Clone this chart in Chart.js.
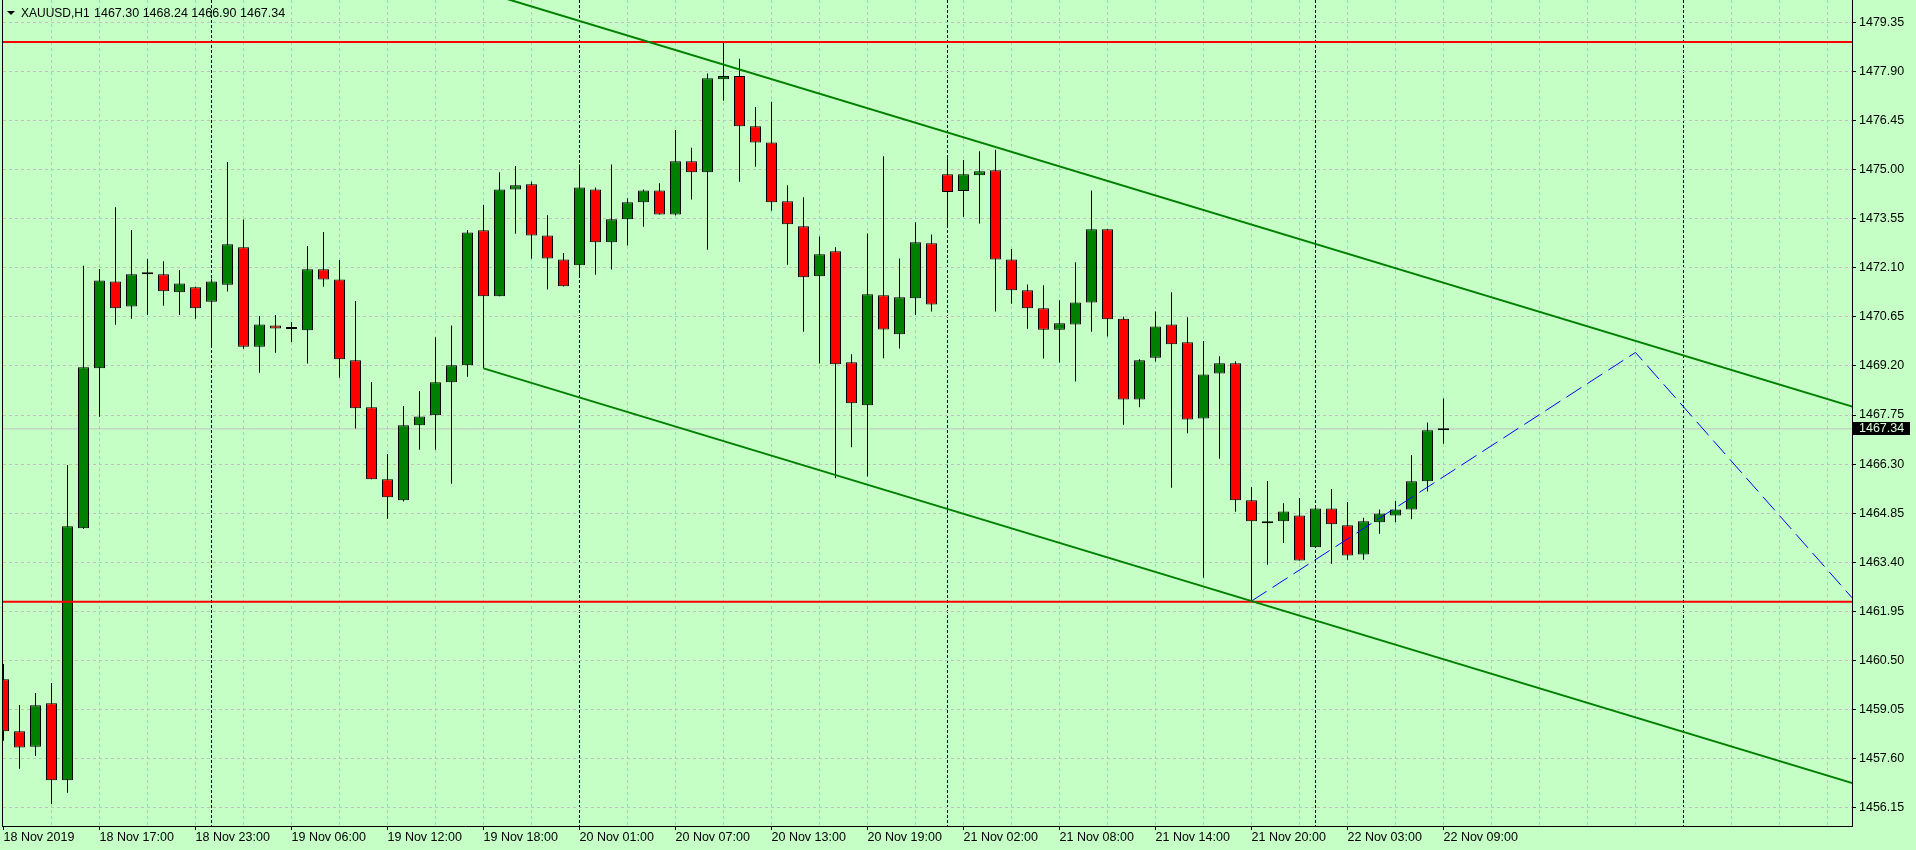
<!DOCTYPE html>
<html>
<head>
<meta charset="utf-8">
<title>XAUUSD,H1</title>
<script src="https://cdn.jsdelivr.net/npm/chart.js@4.4.1/dist/chart.umd.min.js"></script>
<style>
    html, body { margin: 0; padding: 0; background: #c6ffc6; }
    #wrap { position: relative; width: 1916px; height: 850px; }
</style>
</head>
<body>
<div id="wrap"><canvas id="chart"></canvas></div>
<script>
// XAUUSD H1 bars, 18 Nov 2019 11:00 -> 22 Nov 2019 09:00 (bar index 0..90)
const opens = [
    1459.94, 1458.40, 1457.94, 1459.23, 1456.95, 1464.40, 1469.13, 1471.70, 1470.96, 1471.91,
    1471.91, 1471.38, 1471.53, 1471.10, 1471.60, 1472.71, 1469.77, 1470.40, 1470.29, 1470.26,
    1472.06, 1471.76, 1469.37, 1467.98, 1465.85, 1465.23, 1467.45, 1467.74, 1468.72, 1469.22,
    1473.21, 1471.26, 1474.42, 1474.57, 1473.06, 1472.35, 1472.18, 1474.42, 1472.86, 1473.54,
    1474.04, 1474.39, 1473.68, 1475.25, 1474.93, 1477.68, 1477.77, 1476.29, 1475.81, 1474.07,
    1473.33, 1471.85, 1472.59, 1469.31, 1468.04, 1471.29, 1470.14, 1471.20, 1472.83, 1474.87,
    1474.37, 1474.84, 1474.99, 1472.35, 1471.44, 1470.91, 1470.27, 1470.43, 1471.08, 1473.24,
    1470.60, 1468.21, 1469.44, 1470.43, 1469.90, 1467.65, 1468.98, 1469.28, 1465.23, 1464.61,
    1464.61, 1464.78, 1463.84, 1464.99, 1464.49, 1463.63, 1464.58, 1464.78, 1464.96, 1465.79,
    1467.30
];
const highs = [
    1460.39, 1459.18, 1459.53, 1459.83, 1466.27, 1472.16, 1472.07, 1473.89, 1473.22, 1472.36,
    1472.30, 1472.04, 1471.55, 1471.79, 1475.23, 1473.53, 1470.68, 1470.71, 1470.50, 1472.75,
    1473.16, 1472.33, 1471.12, 1468.73, 1466.60, 1468.02, 1468.46, 1470.05, 1470.40, 1473.22,
    1473.96, 1474.93, 1475.11, 1474.65, 1473.66, 1472.54, 1475.16, 1474.48, 1475.16, 1474.16,
    1474.42, 1474.60, 1476.18, 1475.65, 1477.85, 1478.80, 1478.28, 1476.86, 1477.01, 1474.54,
    1474.19, 1473.03, 1472.71, 1469.55, 1473.12, 1475.40, 1472.38, 1473.45, 1473.09, 1475.34,
    1475.29, 1475.55, 1475.59, 1472.66, 1471.61, 1471.59, 1471.14, 1472.27, 1474.39, 1473.24,
    1470.66, 1469.40, 1470.81, 1471.38, 1470.64, 1469.94, 1469.49, 1469.34, 1465.62, 1465.80,
    1465.14, 1465.30, 1465.00, 1465.56, 1465.18, 1464.71, 1464.96, 1465.21, 1466.57, 1467.53,
    1468.24
];
const lows = [
    1458.12, 1457.29, 1457.67, 1456.25, 1456.58, 1464.38, 1467.70, 1470.42, 1470.60, 1470.71,
    1470.98, 1470.71, 1470.60, 1469.77, 1471.40, 1469.71, 1469.00, 1469.59, 1469.91, 1469.27,
    1471.54, 1468.85, 1467.35, 1465.85, 1464.68, 1465.19, 1466.72, 1466.72, 1465.72, 1468.88,
    1469.13, 1471.26, 1473.11, 1472.37, 1471.46, 1471.55, 1471.89, 1471.90, 1472.05, 1472.76,
    1473.32, 1473.68, 1473.65, 1474.12, 1472.64, 1477.04, 1474.65, 1475.09, 1473.79, 1472.19,
    1470.21, 1469.27, 1465.88, 1466.80, 1465.93, 1469.43, 1469.72, 1470.71, 1470.81, 1473.32,
    1473.61, 1473.41, 1470.81, 1471.04, 1470.30, 1469.42, 1469.30, 1468.74, 1470.21, 1470.07,
    1467.46, 1467.98, 1469.33, 1465.60, 1467.21, 1462.94, 1466.46, 1464.89, 1462.25, 1463.32,
    1463.97, 1463.45, 1463.82, 1463.35, 1463.47, 1463.47, 1464.24, 1464.58, 1464.67, 1465.49,
    1466.90
];
const closes = [
    1458.40, 1457.92, 1459.17, 1456.95, 1464.46, 1469.16, 1471.73, 1470.91, 1471.91, 1471.91,
    1471.41, 1471.64, 1470.91, 1471.70, 1472.80, 1469.77, 1470.43, 1470.31, 1470.29, 1472.06,
    1471.76, 1469.40, 1467.95, 1465.85, 1465.32, 1467.45, 1467.71, 1468.72, 1469.22, 1473.15,
    1471.26, 1474.42, 1474.54, 1473.06, 1472.38, 1471.56, 1474.48, 1472.86, 1473.54, 1474.04,
    1474.39, 1473.68, 1475.25, 1474.93, 1477.71, 1477.77, 1476.29, 1475.81, 1474.04, 1473.39,
    1471.82, 1472.50, 1469.25, 1468.10, 1471.32, 1470.28, 1471.23, 1472.86, 1471.02, 1474.34,
    1474.87, 1474.96, 1472.35, 1471.44, 1470.91, 1470.27, 1470.46, 1471.08, 1473.24, 1470.58,
    1468.21, 1469.37, 1470.37, 1469.84, 1467.62, 1468.95, 1469.28, 1465.23, 1464.61, 1464.55,
    1464.90, 1463.45, 1464.99, 1464.52, 1463.60, 1464.61, 1464.84, 1464.96, 1465.79, 1467.30,
    1467.34
];

// time axis labels (bar index -> text)
const timeLabelIdx = [0, 6, 12, 18, 24, 30, 36, 42, 48, 54, 60, 66, 72, 78, 84, 90];
const timeLabels = [
    '18 Nov 2019', '18 Nov 17:00', '18 Nov 23:00', '19 Nov 06:00', '19 Nov 12:00', '19 Nov 18:00',
    '20 Nov 01:00', '20 Nov 07:00', '20 Nov 13:00', '20 Nov 19:00', '21 Nov 02:00', '21 Nov 08:00',
    '21 Nov 14:00', '21 Nov 20:00', '22 Nov 03:00', '22 Nov 09:00'
];
// first bar of each new day (period separators)
const daySeparators = [13, 36, 59, 82, 105];

// price axis ticks
const priceTicks = [
    1456.15, 1457.60, 1459.05, 1460.50, 1461.95, 1463.40, 1464.85, 1466.30, 1467.75,
    1469.20, 1470.65, 1472.10, 1473.55, 1475.00, 1476.45, 1477.90, 1479.35
];

// objects drawn on the chart
const supportLevels = [1478.78, 1462.23];
const channelUpper = [{ x: 30, y: 1480.26 }, { x: 115.6, y: 1467.99 }];
const channelLower = [{ x: 30, y: 1469.13 }, { x: 115.6, y: 1456.86 }];
const projection = [{ x: 78, y: 1462.25 }, { x: 102, y: 1469.60 }, { x: 115.53, y: 1462.35 }];

const symbolName = 'XAUUSD,H1';
const bidPrice = closes[closes.length - 1];

// view window
const X_MIN = -0.03125, X_MAX = 115.53125;
const Y_MIN = 1455.60, Y_MAX = 1480.02;

const BULL = '#008000';
const BEAR = '#ff0000';
const GRID = '#c0c0c0';
const FONT = '"Liberation Sans", Arial, sans-serif';

Chart.defaults.font.family = FONT;
Chart.defaults.font.size = 12.5;
Chart.defaults.color = '#000';

document.addEventListener('DOMContentLoaded', function () {
    const idx = opens.map((_, i) => i);

    // grid every 3 bars + separators
    const gridIdx = [];
    for (let v = 0; v <= 114; v += 3) gridIdx.push(v);
    daySeparators.forEach(v => { if (!gridIdx.includes(v)) gridIdx.push(v); });
    gridIdx.sort((a, b) => a - b);

    const labelFor = v => {
        const k = timeLabelIdx.indexOf(v);
        return k >= 0 ? timeLabels[k] : '';
    };

    // no extra padding around the plot from the tick labels
    const noPad = s => {
        s.paddingTop = 0;
        s.paddingBottom = 0;
        s.paddingLeft = 0;
        s.paddingRight = 0;
    };

    const hLine = (price, color, width, order) => ({
        type: 'line',
        data: [{ x: X_MIN - 1, y: price }, { x: X_MAX + 1, y: price }],
        borderColor: color,
        borderWidth: width,
        pointRadius: 0,
        fill: false,
        clip: 0,
        order: order
    });

    const trendLine = (points, color, width, dash) => ({
        type: 'line',
        data: points,
        borderColor: color,
        borderWidth: width,
        borderDash: dash || [],
        pointRadius: 0,
        tension: 0,
        fill: false,
        clip: 0,
        order: 0
    });

    // frame, header and bid label
    const chartDecor = {
        id: 'chartDecor',
        afterDraw(chart) {
            const { ctx, chartArea, scales } = chart;
            ctx.save();
            ctx.strokeStyle = '#000';
            ctx.lineWidth = 1;
            ctx.beginPath();
            ctx.moveTo(chartArea.left - 0.5, 0);
            ctx.lineTo(chartArea.left - 0.5, chartArea.bottom + 1);
            ctx.stroke();

            // header
            ctx.fillStyle = '#000';
            ctx.beginPath();
            ctx.moveTo(7, 11);
            ctx.lineTo(15, 11);
            ctx.lineTo(11, 15);
            ctx.closePath();
            ctx.fill();
            ctx.font = '12px ' + FONT;
            ctx.textBaseline = 'middle';
            ctx.textAlign = 'left';
            ctx.fillText(symbolName, 21, 14);
            const last = opens.length - 1;
            const ohlc = [opens[last], highs[last], lows[last], closes[last]].map(v => v.toFixed(2)).join(' ');
            ctx.font = '12.5px ' + FONT;
            ctx.fillText(ohlc, 94, 14);

            // bid price box on the axis
            const py = scales.y.getPixelForValue(bidPrice);
            ctx.fillStyle = '#000';
            ctx.fillRect(chartArea.right + 1, Math.round(py) - 7, 57, 13);
            ctx.fillStyle = '#d8ffd8';
            ctx.fillText(bidPrice.toFixed(2), chartArea.right + 7, Math.round(py) - 0.5);
            ctx.restore();
        }
    };

    new Chart(document.getElementById('chart'), {
        type: 'bar',
        data: {
            datasets: [
                trendLine(channelUpper, '#008000', 2),
                trendLine(channelLower, '#008000', 2),
                trendLine(projection, '#0000ff', 1, [18, 7]),
                hLine(supportLevels[0], '#ff0000', 2, 0),
                hLine(supportLevels[1], '#ff0000', 2, 0),
                {
                    type: 'bar',
                    data: idx.map(i => ({ x: i, y: [opens[i], closes[i]] })),
                    backgroundColor: idx.map(i => closes[i] >= opens[i] ? BULL : BEAR),
                    borderColor: '#000',
                    borderWidth: 1,
                    borderSkipped: false,
                    barThickness: 11,
                    minBarLength: 2,
                    inflateAmount: 0,
                    grouped: false,
                    order: 1
                },
                {
                    type: 'bar',
                    data: idx.map(i => ({ x: i, y: [lows[i], highs[i]] })),
                    backgroundColor: '#000',
                    borderWidth: 0,
                    barThickness: 1,
                    inflateAmount: 0,
                    grouped: false,
                    order: 2
                },
                hLine(bidPrice, GRID, 1, 3)
            ]
        },
        options: {
            responsive: true,
            maintainAspectRatio: false,
            devicePixelRatio: 1,
            animation: false,
            events: [],
            layout: { padding: { left: 3, top: 0, right: 0, bottom: 0 } },
            plugins: {
                legend: { display: false },
                tooltip: { enabled: false },
                title: { display: false }
            },
            scales: {
                x: {
                    type: 'linear',
                    position: 'bottom',
                    min: X_MIN,
                    max: X_MAX,
                    offset: false,
                    afterBuildTicks: s => { s.ticks = gridIdx.map(v => ({ value: v })); },
                    afterFit: s => { s.height = 24; noPad(s); },
                    ticks: {
                        autoSkip: false,
                        maxRotation: 0,
                        minRotation: 0,
                        align: 'start',
                        padding: 0,
                        color: '#000',
                        callback: v => labelFor(v)
                    },
                    grid: {
                        offset: false,
                        lineWidth: 1,
                        tickLength: 4,
                        color: ctx => {
                            const v = ctx.tick ? ctx.tick.value : null;
                            if (daySeparators.includes(v)) return '#000';
                            return v === 0 ? 'rgba(0,0,0,0)' : GRID;
                        },
                        tickColor: ctx => (ctx.tick && labelFor(ctx.tick.value)) ? '#000' : 'rgba(0,0,0,0)'
                    },
                    border: {
                        display: true,
                        color: '#000',
                        width: 1,
                        dash: ctx => (ctx.tick && daySeparators.includes(ctx.tick.value)) ? [3, 2] : [3, 3]
                    }
                },
                y: {
                    type: 'linear',
                    position: 'right',
                    min: Y_MIN,
                    max: Y_MAX,
                    beginAtZero: false,
                    afterBuildTicks: s => { s.ticks = priceTicks.map(v => ({ value: v })); },
                    afterFit: s => { s.width = 64; noPad(s); },
                    ticks: {
                        autoSkip: false,
                        padding: 3,
                        color: '#000',
                        callback: v => v.toFixed(2)
                    },
                    grid: {
                        lineWidth: 1,
                        tickLength: 4,
                        color: GRID,
                        tickColor: '#000'
                    },
                    border: { display: true, color: '#000', width: 1, dash: [3, 3] }
                }
            }
        },
        plugins: [chartDecor]
    });
});
</script>
</body>
</html>
